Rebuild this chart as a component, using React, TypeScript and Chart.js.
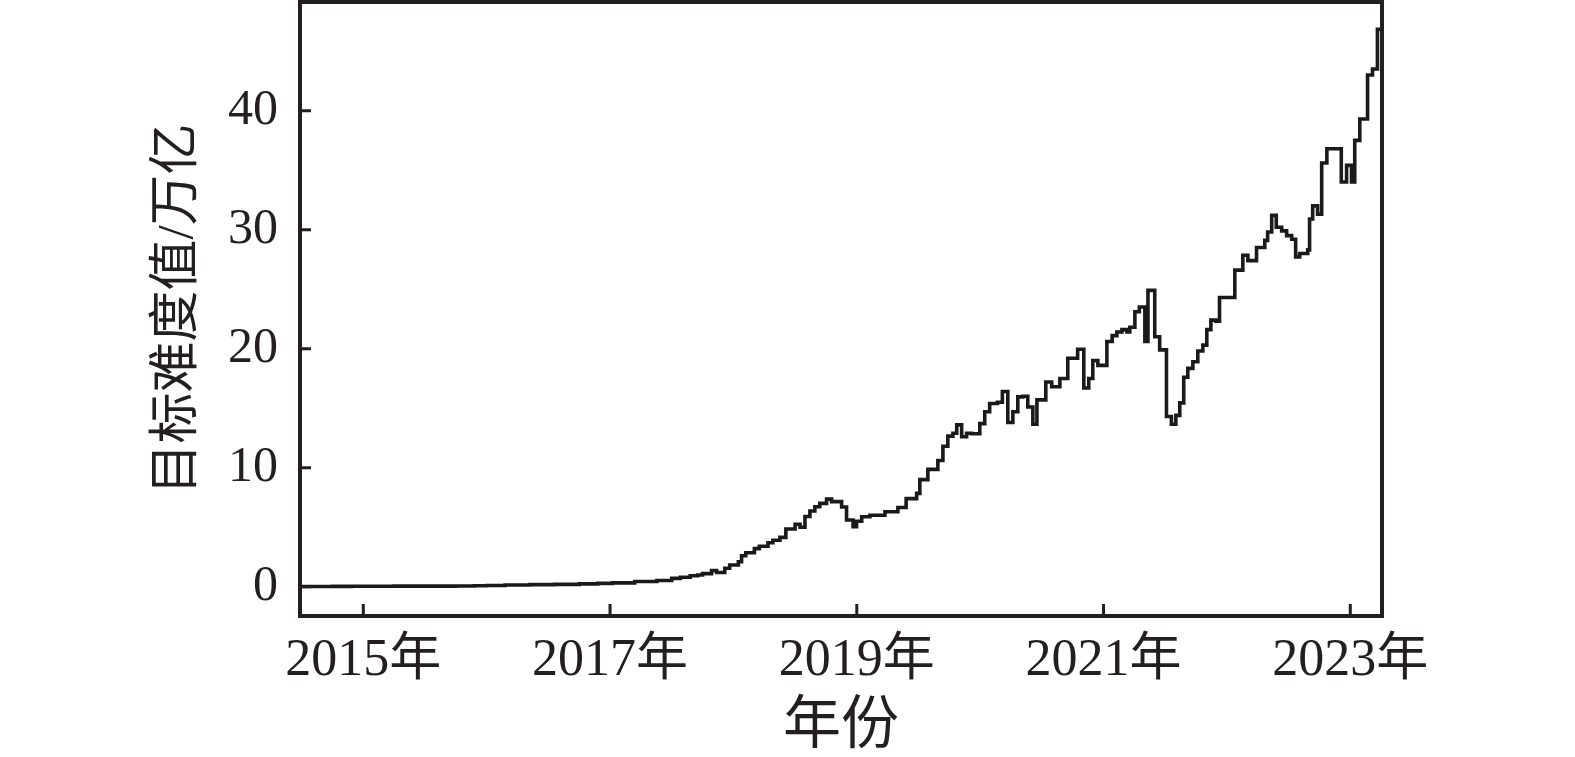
import React, { useEffect, useRef } from "react";
import { Chart, registerables } from "chart.js";

Chart.register(...registerables);

// Difficulty adjustment dates (decimal year) and target difficulty (万亿)
const years: number[] = [
  2014.487, 2014.6, 2014.75, 2014.9, 2015.0, 2015.25, 2015.5, 2015.75, 2015.9,
  2016.0, 2016.15, 2016.35, 2016.55, 2016.75, 2016.9,
  2017.02, 2017.2, 2017.38, 2017.5, 2017.57, 2017.65, 2017.71, 2017.75,
  2017.823, 2017.864, 2017.93, 2017.97, 2018.04, 2018.066, 2018.1, 2018.17,
  2018.21, 2018.28, 2018.32, 2018.377, 2018.425, 2018.5, 2018.54, 2018.58,
  2018.62, 2018.66, 2018.7, 2018.755, 2018.796, 2018.877, 2018.917, 2018.97,
  2018.998, 2019.04, 2019.106, 2019.228, 2019.333, 2019.4, 2019.485, 2019.511,
  2019.576, 2019.657, 2019.698, 2019.738, 2019.779, 2019.81, 2019.85, 2019.89,
  2019.93, 2019.997, 2020.037, 2020.077, 2020.14, 2020.18, 2020.224, 2020.265,
  2020.305, 2020.346, 2020.386, 2020.427, 2020.46, 2020.532, 2020.58, 2020.646,
  2020.71, 2020.79, 2020.84, 2020.88, 2020.913, 2020.954, 2021.027, 2021.07,
  2021.108, 2021.149, 2021.19, 2021.213, 2021.254, 2021.29, 2021.335, 2021.36,
  2021.415, 2021.455, 2021.51, 2021.55, 2021.586, 2021.618, 2021.65, 2021.683,
  2021.724, 2021.764, 2021.805, 2021.837, 2021.87, 2021.91, 2021.94, 2022.064,
  2022.129, 2022.17, 2022.24, 2022.307, 2022.33, 2022.363, 2022.4, 2022.444,
  2022.484, 2022.525, 2022.557, 2022.59, 2022.655, 2022.67, 2022.695, 2022.735,
  2022.768, 2022.81, 2022.927, 2022.97, 2023.01, 2023.036, 2023.077, 2023.14,
  2023.18, 2023.22, 2023.257,
];

const difficulty: number[] = [
  0.017, 0.02, 0.03, 0.04, 0.044, 0.047, 0.05, 0.06, 0.08,
  0.1, 0.14, 0.18, 0.2, 0.24, 0.28,
  0.32, 0.44, 0.52, 0.7, 0.8, 0.92, 0.98, 1.1,
  1.35, 1.2, 1.55, 1.82, 2.1, 2.6, 2.86, 3.2,
  3.4, 3.7, 3.9, 4.15, 4.85, 5.25, 5.0, 5.9,
  6.36, 6.72, 7.0, 7.36, 7.15, 6.7, 5.6, 5.05,
  5.5, 5.88, 6.0, 6.3, 6.66, 7.4, 7.84, 9.0,
  9.86, 10.6, 11.8, 12.65, 12.9, 13.6, 12.6, 12.9,
  12.85, 13.7, 14.7, 15.4, 15.5, 16.4, 13.8, 14.7,
  15.95, 16.0, 15.1, 13.65, 15.7, 17.2, 16.8, 17.5,
  19.2, 19.95, 16.7, 17.5, 19.0, 18.6, 20.6, 21.1,
  21.4, 21.6, 21.4, 21.8, 23.1, 23.5, 20.6, 24.9,
  21.0, 19.9, 14.3, 13.65, 14.4, 15.45, 17.6, 18.35,
  18.9, 19.8, 20.3, 21.6, 22.4, 22.3, 24.3, 26.6,
  27.85, 27.4, 28.5, 29.1, 29.8, 31.2, 30.2, 29.9,
  29.5, 29.2, 27.7, 28.0, 28.3, 30.9, 32.0, 31.3,
  35.6, 36.8, 34.0, 35.4, 34.0, 37.5, 39.3, 43.0,
  43.5, 46.84, 46.84,
];

const xTickYears: number[] = [2015, 2017, 2019, 2021, 2023];
const yTickValues: number[] = [0, 10, 20, 30, 40];

const X_MIN = 2014.487;
const X_MAX = 2023.257;
const Y_MIN = -2.46;
const Y_MAX = 49.13;

const INK = "#231f20";
const FONT_FAMILY = "'Liberation Serif', 'Noto Sans CJK SC', serif";

const framePlugin = {
  id: "frameAndTicks",
  afterDraw(chart: any) {
    const { ctx, chartArea } = chart;
    const xs = chart.scales.x;
    const ys = chart.scales.y;
    ctx.save();
    ctx.strokeStyle = INK;
    ctx.lineCap = "butt";
    // inward tick marks
    ctx.lineWidth = 3;
    ctx.beginPath();
    for (const v of yTickValues) {
      const py = ys.getPixelForValue(v);
      ctx.moveTo(chartArea.left, py);
      ctx.lineTo(chartArea.left + 11, py);
    }
    for (const v of xTickYears) {
      const px = xs.getPixelForValue(v);
      ctx.moveTo(px, chartArea.bottom);
      ctx.lineTo(px, chartArea.bottom - 12);
    }
    ctx.stroke();
    // frame
    ctx.lineWidth = 4;
    ctx.strokeRect(
      chartArea.left,
      chartArea.top,
      chartArea.right - chartArea.left,
      chartArea.bottom - chartArea.top
    );
    ctx.restore();
  },
};

export default function App() {
  const canvasRef = useRef<HTMLCanvasElement | null>(null);

  useEffect(() => {
    const canvas = canvasRef.current;
    if (!canvas) return;
    const points = years.map((x, i) => ({ x, y: difficulty[i] }));
    const chart = new Chart(canvas, {
      type: "line",
      data: {
        datasets: [
          {
            data: points,
            borderColor: "#1a1a1a",
            borderWidth: 3.6,
            pointRadius: 0,
            stepped: "before",
            fill: false,
          },
        ],
      },
      options: {
        animation: false,
        responsive: false,
        devicePixelRatio: 1,
        layout: { padding: { left: 0, right: 193, top: 2, bottom: 0 } },
        plugins: {
          legend: { display: false },
          tooltip: { enabled: false },
        },
        scales: {
          x: {
            type: "linear",
            min: X_MIN,
            max: X_MAX,
            grid: { display: false, drawTicks: false },
            border: { display: false },
            afterBuildTicks: (scale: any) => {
              scale.ticks = xTickYears.map((v) => ({ value: v }));
            },
            afterFit: (scale: any) => {
              scale.height = 141;
              scale.paddingLeft = 0;
              scale.paddingRight = 0;
            },
            ticks: {
              autoSkip: false,
              maxRotation: 0,
              padding: 14,
              color: INK,
              font: { family: FONT_FAMILY, size: 52 },
              callback: (v: any) => `${v}年`,
            },
            title: {
              display: true,
              text: "年份",
              color: INK,
              font: { family: FONT_FAMILY, size: 58 },
              padding: { top: 0, bottom: -6 },
            },
          },
          y: {
            type: "linear",
            min: Y_MIN,
            max: Y_MAX,
            grid: { display: false, drawTicks: false },
            border: { display: false },
            afterBuildTicks: (scale: any) => {
              scale.ticks = yTickValues.map((v) => ({ value: v }));
            },
            afterFit: (scale: any) => {
              scale.width = 300;
              scale.paddingTop = 0;
              scale.paddingBottom = 0;
            },
            ticks: {
              padding: 22,
              color: INK,
              font: { family: FONT_FAMILY, size: 50 },
              callback: (v: any) => `${v}`,
            },
            title: {
              display: true,
              text: "目标难度值/万亿",
              color: INK,
              font: { family: FONT_FAMILY, size: 51 },
              padding: { top: 148, bottom: 0 },
            },
          },
        },
      },
      plugins: [framePlugin],
    });
    return () => chart.destroy();
  }, []);

  return (
    <div
      style={{
        position: "absolute",
        left: 0,
        top: 0,
        width: 1575,
        height: 757,
        background: "#ffffff",
      }}
    >
      <canvas ref={canvasRef} width={1575} height={757} />
    </div>
  );
}
